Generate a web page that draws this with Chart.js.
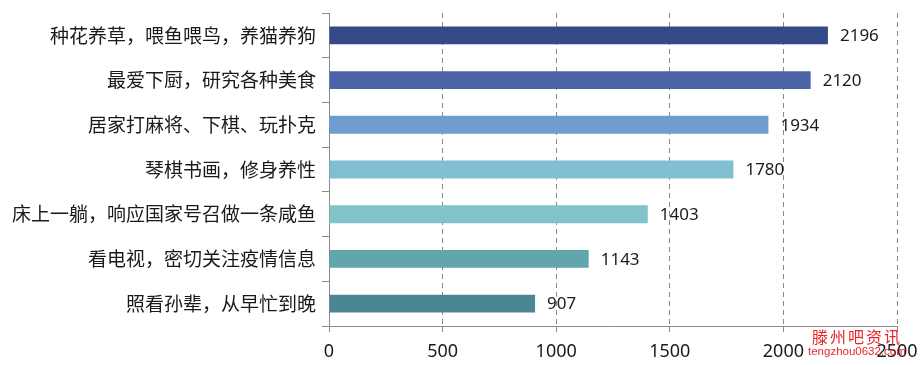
<!DOCTYPE html>
<html>
<head>
<meta charset="utf-8">
<script src="https://cdn.jsdelivr.net/npm/chart.js@4/dist/chart.umd.min.js"></script>
<style>
  html, body { margin: 0; padding: 0; background: #ffffff; }
  #wrap { position: relative; width: 920px; height: 365px; }
  #c { display: block; }
  #wm { position: absolute; left: 812px; top: 327px; color: #e8262b; font-family: "Noto Sans CJK SC", serif; font-size: 16px; line-height: 18px; letter-spacing: 2px; }
  #wm2 { position: absolute; left: 808px; top: 345px; color: #e8262b; font-family: "Liberation Sans", sans-serif; font-size: 11.5px; line-height: 12px; }
</style>
</head>
<body>
<div id="wrap">
<canvas id="c" width="920" height="365"></canvas>
<div id="wm">滕州吧资讯</div>
<div id="wm2">tengzhou0632.com</div>
</div>
<script>
const categories = [
  "种花养草，喂鱼喂鸟，养猫养狗",
  "最爱下厨，研究各种美食",
  "居家打麻将、下棋、玩扑克",
  "琴棋书画，修身养性",
  "床上一躺，响应国家号召做一条咸鱼",
  "看电视，密切关注疫情信息",
  "照看孙辈，从早忙到晚"
];
const values = [2196, 2120, 1934, 1780, 1403, 1143, 907];
const barColors = ["#344a87", "#4a64a6", "#6f9dd0", "#7fbfd1", "#80c3c9", "#60a6ab", "#4b8792"];
const xTicks = [0, 500, 1000, 1500, 2000, 2500];

const valueLabels = {
  id: "valueLabels",
  afterDatasetsDraw(chart) {
    const ctx = chart.ctx;
    const meta = chart.getDatasetMeta(0);
    ctx.save();
    ctx.font = '17px "Noto Sans", sans-serif';
    ctx.fillStyle = "#1a1a1a";
    ctx.textAlign = "left";
    ctx.textBaseline = "middle";
    meta.data.forEach((bar, i) => {
      ctx.fillText(String(values[i]), bar.x + 12, bar.y + 1);
    });
    ctx.restore();
  }
};

new Chart(document.getElementById("c"), {
  type: "bar",
  data: {
    labels: categories,
    datasets: [{
      data: values,
      backgroundColor: barColors,
      borderWidth: 0,
      barPercentage: 0.4,
      categoryPercentage: 1.0
    }]
  },
  options: {
    indexAxis: "y",
    responsive: false,
    animation: false,
    layout: { padding: { top: 13, right: 23, left: 0, bottom: 0 } },
    plugins: { legend: { display: false }, tooltip: { enabled: false } },
    scales: {
      x: {
        min: 0, max: 2500,
        afterBuildTicks(scale) { scale.ticks = xTicks.map(v => ({ value: v })); },
        afterFit(scale) { scale.height = 39; scale.paddingLeft = 0; scale.paddingRight = 0; },
        grid: { color: "#8a8a8a", lineWidth: 1, tickLength: 6, drawTicks: true, tickBorderDash: [] },
        border: { color: "#8a8a8a", dash: [5, 4], display: true },
        ticks: {
          color: "#1a1a1a",
          font: { family: '"Noto Sans", sans-serif', size: 18 },
          padding: 9,
          maxRotation: 0,
          callback: (v) => String(v)
        }
      },
      y: {
        afterFit(scale) { scale.width = 329; scale.paddingTop = 0; scale.paddingBottom = 0; },
        grid: { drawOnChartArea: false, color: "#8a8a8a", tickLength: 7 },
        border: { color: "#8a8a8a" },
        ticks: { color: "#1a1a1a", font: { family: '"Noto Sans CJK SC", sans-serif', size: 19 }, padding: 6 }
      }
    }
  },
  plugins: [valueLabels]
});
</script>
</body>
</html>
